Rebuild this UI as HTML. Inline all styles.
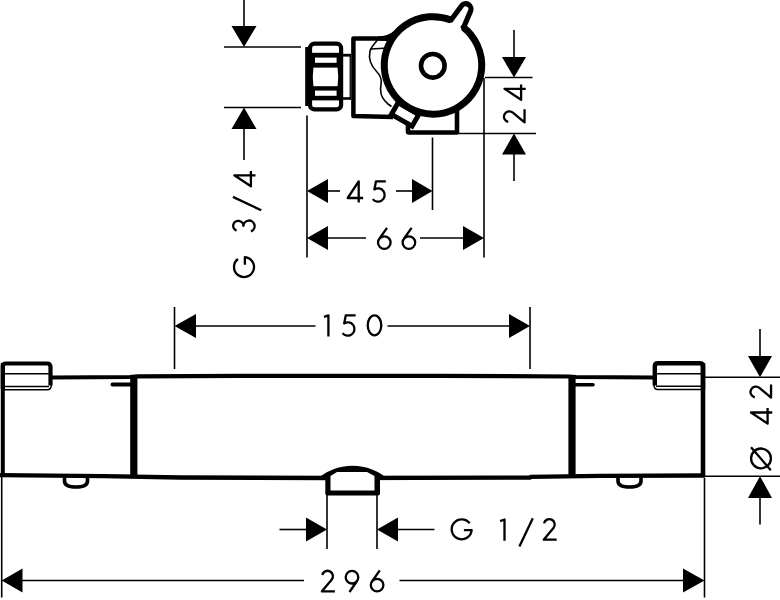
<!DOCTYPE html>
<html><head><meta charset="utf-8">
<style>
html,body{margin:0;padding:0;background:#fff;}
body{width:780px;height:600px;overflow:hidden;}
svg{display:block;}
</style></head>
<body>
<svg width="780" height="600" viewBox="0 0 780 600">
<rect width="780" height="600" fill="#fff"/>
<!-- ================= TOP VIEW ================= -->
<g stroke="#000" stroke-width="1.6" fill="none">
  <line x1="224" y1="47" x2="301" y2="47"/>
  <line x1="224" y1="107.5" x2="301" y2="107.5"/>
  <line x1="244" y1="0" x2="244" y2="28"/>
  <line x1="244" y1="128" x2="244" y2="160"/>
  <line x1="485" y1="77.5" x2="532.5" y2="77.5"/>
  <line x1="459" y1="133.5" x2="536" y2="133.5"/>
  <line x1="514" y1="30" x2="514" y2="58"/>
  <line x1="514" y1="153" x2="514" y2="181"/>
  <line x1="307" y1="115.5" x2="307" y2="257.5"/>
  <line x1="432.5" y1="137.5" x2="432.5" y2="210"/>
  <line x1="484" y1="78" x2="484" y2="257.5"/>
  <line x1="327" y1="191" x2="340" y2="191"/>
  <line x1="396" y1="191" x2="413" y2="191"/>
  <line x1="327" y1="238" x2="366" y2="238"/>
  <line x1="420" y1="238" x2="464" y2="238"/>
</g>
<g fill="#000">
  <polygon points="244,47 231.5,26 256.5,26"/>
  <polygon points="244,107.5 231.5,129 256.5,129"/>
  <polygon points="514,77.5 502,57 526,57"/>
  <polygon points="514,133.5 502,154.5 526,154.5"/>
  <polygon points="307,191 328,179 328,203"/>
  <polygon points="432.5,191 412,179 412,203"/>
  <polygon points="307,238 328,226 328,250"/>
  <polygon points="484,238 463,226 463,250"/>
</g>
<!-- nut -->
<g>
  <rect x="305.2" y="47" width="3" height="59" fill="#000"/>
  <rect x="310" y="43.6" width="31.1" height="65.8" rx="4.5" fill="none" stroke="#000" stroke-width="4.2"/>
  <rect x="308" y="52.8" width="35" height="4.8" fill="#000"/>
  <rect x="308" y="62.8" width="35" height="4.8" fill="#000"/>
  <rect x="308" y="86.2" width="35" height="4.4" fill="#000"/>
  <rect x="308" y="95.8" width="35" height="4.6" fill="#000"/>
  <rect x="312" y="57" width="3" height="7" fill="#000"/>
  <rect x="336.6" y="57" width="3" height="7" fill="#000"/>
  <rect x="312" y="90" width="3" height="7" fill="#000"/>
  <rect x="336.6" y="90" width="3" height="7" fill="#000"/>
  <path d="M312,67 Q 310.5,77 312,87 L 313.5,87 Q 312,77 313.5,67 Z" fill="#000"/>
  <path d="M339,67 Q 340.5,77 339,87 L 337.5,87 Q 339,77 337.5,67 Z" fill="#000"/>
  <rect x="342" y="53.8" width="9" height="2.8" fill="#000"/>
  <rect x="342" y="97.2" width="9" height="2.6" fill="#000"/>
  <rect x="349.6" y="54" width="1.3" height="45.5" fill="#000"/>
</g>
<!-- body -->
<path d="M 395,38.6 L 353.4,38.6 L 353.4,116.1 L 393,117" fill="none" stroke="#000" stroke-width="4.5" stroke-linejoin="round"/>
<path d="M377.5,40 C 374,44 371,47.5 370,51 C 368.5,58 371,66 377,72 C 381,76 382,79 381,84 C 380,90 381,97 385,101 C 387,103.5 389,105 391.5,106.5" fill="none" stroke="#000" stroke-width="1.6"/>
<path d="M378,36.4 Q 388,36.4 393.5,31.3 L 398,42 L 378,40.6 Z" fill="#000"/>
<path d="M370.5,49 L 384,48.2" fill="none" stroke="#000" stroke-width="1.6"/>
<path d="M 408,122 L 408,131.5 Q 408,132.5 409,132.5 L 457,132.5 L 457,110" fill="none" stroke="#000" stroke-width="4.6" stroke-linejoin="round"/>
<g transform="translate(405.1,114.4) rotate(29.7)">
  <rect x="-11.9" y="-6.7" width="23.8" height="13.4" fill="#fff" stroke="#000" stroke-width="5"/>
</g>
<!-- main circle -->
<circle cx="433" cy="65.4" r="48.75" fill="#fff"/>
<path d="M463.26,27.18 A48.75,48.75 0 1 1 451.07,20.12" fill="none" stroke="#000" stroke-width="7"/>
<path d="M451.07,20.12 L451.20,19.80 L461.26,6.17 A5.3,5.3 0 0 1 470.34,11.63 L464.20,26.00 L463.26,27.18" fill="none" stroke="#000" stroke-width="5.2" stroke-linejoin="round" stroke-linecap="round"/>
<circle cx="432.8" cy="65.8" r="11.8" fill="none" stroke="#000" stroke-width="4.6"/>

<!-- ================= BOTTOM VIEW ================= -->
<g stroke="#000" stroke-width="1.6" fill="none">
  <line x1="174.5" y1="307" x2="174.5" y2="369"/>
  <line x1="530" y1="307" x2="530" y2="369"/>
  <line x1="195" y1="326" x2="315.5" y2="326"/>
  <line x1="387.5" y1="326" x2="510" y2="326"/>
  <line x1="705" y1="377.2" x2="780" y2="377.2"/>
  <line x1="705" y1="476.2" x2="780" y2="476.2"/>
  <line x1="760" y1="329" x2="760" y2="357"/>
  <line x1="760" y1="497" x2="760" y2="524.5"/>
  <line x1="327" y1="494" x2="327" y2="549"/>
  <line x1="377" y1="494" x2="377" y2="549"/>
  <line x1="279.5" y1="529.5" x2="307" y2="529.5"/>
  <line x1="397" y1="529.5" x2="434.5" y2="529.5"/>
  <line x1="1.7" y1="476" x2="1.7" y2="597.5"/>
  <line x1="704.5" y1="478" x2="704.5" y2="597.5"/>
  <line x1="21" y1="580.5" x2="304" y2="580.5"/>
  <line x1="399.5" y1="580.5" x2="684" y2="580.5"/>
</g>
<g fill="#000">
  <polygon points="174.5,326 196,314 196,338"/>
  <polygon points="530,326 509,314 509,338"/>
  <polygon points="760,377.2 748,356 772,356"/>
  <polygon points="760,476.2 748,498 772,498"/>
  <polygon points="327,529.5 306,517.5 306,541.5"/>
  <polygon points="377,529.5 398,517.5 398,541.5"/>
  <polygon points="1.7,580.5 22.5,568.5 22.5,592.5"/>
  <polygon points="704.5,580.5 683,568.5 683,592.5"/>
</g>
<g stroke="#000" fill="none">
  <path d="M 52,377.5 L 130,377 L 138,376.3 L 240,375.9 L 440,375.8 L 569,376.5 L 576,377 L 654,377.5" stroke-width="4.2"/>
  <path d="M 0,475.2 L 104,476.2 L 180,477.5 L 330,478 L 530,477.5 L 531,476.8 L 600,475.8 L 705,475.5" stroke-width="4.3"/>
  <line x1="2.8" y1="363" x2="2.8" y2="477" stroke-width="4"/>
  <line x1="703" y1="363" x2="703" y2="477" stroke-width="4.6"/>
  <line x1="133.8" y1="375" x2="133.8" y2="477" stroke-width="7.2"/>
  <line x1="572" y1="375" x2="572" y2="477" stroke-width="7.2"/>
  <path d="M 112.5,384.5 L 131,384.5" stroke-width="4" stroke-linecap="round"/>
  <path d="M 575,384.8 L 593,384.8" stroke-width="3.6" stroke-linecap="round"/>
</g>
<g fill="none" stroke="#000">
  <path d="M 2.8,389 L 2.8,366 Q 2.8,363.5 6,363.5 L 47,363.5 Q 50.5,363.5 50.5,367 L 50.5,385.5" stroke-width="4.2"/>
  <path d="M 51.3,385 Q 51.3,389.8 47,389.8 L 4,389.8" stroke-width="1.5"/>
  <line x1="4" y1="373.8" x2="49" y2="373.8" stroke-width="1.6"/>
  <line x1="4" y1="386.5" x2="49" y2="386.5" stroke-width="1.4"/>
  <path d="M 703,389 L 703,366 Q 703,363.3 699.5,363.3 L 658,363.3 Q 654.8,363.3 654.8,366.5 L 654.8,385.5" stroke-width="4.4"/>
  <path d="M 654,385 Q 654,389.6 658,389.6 L 701,389.6" stroke-width="1.5"/>
  <line x1="656" y1="373.8" x2="701" y2="373.8" stroke-width="1.6"/>
  <line x1="656" y1="386.3" x2="701" y2="386.3" stroke-width="1.4"/>
</g>
<path d="M 64.5,476 L 64.5,481 Q 64.5,487 76,487 Q 87.5,487 87.5,481 L 87.5,476" fill="none" stroke="#000" stroke-width="3.6"/>
<path d="M 618,476 L 618,481 Q 618,487 629.5,487 Q 641,487 641,481 L 641,476" fill="none" stroke="#000" stroke-width="3.6"/>
<path d="M 316,480 A 54 54 0 0 1 389,480 L 380,480 L 380,493.5 Q 380,495.6 378,495.6 L 327.3,495.6 Q 325.3,495.6 325.3,493.5 L 325.3,480 Z" fill="#000"/>
<polygon points="330.5,476 337,472 367,472 374.5,476 374.5,490.5 330.5,490.5" fill="#fff"/>

<g fill="none" stroke="#000" stroke-width="2.3" stroke-linejoin="round">
<path transform="translate(346.5,202.6)" d="M12.2,0 L12.2,-21.2 L1.2,-4.6 L16.6,-4.6"/>
<path transform="translate(371.5,202.6)" d="M14.3,-21.3 L4.5,-21.3 L2.88,-13.18 A6.65,6.65 0 1 1 1.26,-3.51"/>
<path transform="translate(376.7,250)" d="M10.30,-22.10 L2.46,-11.04 M1.30,-7.40 a6.3,6.3 0 1 0 12.6,0 a6.3,6.3 0 1 0 -12.6,0"/>
<path transform="translate(401.3,250)" d="M10.30,-22.10 L2.46,-11.04 M1.30,-7.40 a6.3,6.3 0 1 0 12.6,0 a6.3,6.3 0 1 0 -12.6,0"/>
<path transform="translate(323.1,336.6)" d="M5.3,0 L5.3,-21.3 L0.9,-19.7"/>
<path transform="translate(341.3,336.6)" d="M14.3,-21.3 L4.5,-21.3 L2.88,-13.18 A6.65,6.65 0 1 1 1.26,-3.51"/>
<path transform="translate(366.5,336.6)" d="M1.2,-11.25 a6.8,10.05 0 1 0 13.6,0 a6.8,10.05 0 1 0 -13.6,0"/>
<path transform="translate(320.7,592.5)" d="M1.52,-17.42 A5.4,5.4 0 1 1 10.94,-12.83 L1.2,-1.15 L14.2,-1.15"/>
<path transform="translate(344.5,592.5)" d="M5.00,-0.50 L12.70,-11.74 M1.20,-15.30 a6.3,6.3 0 1 0 12.6,0 a6.3,6.3 0 1 0 -12.6,0"/>
<path transform="translate(369.5,592.5)" d="M10.30,-22.10 L2.46,-11.04 M1.30,-7.40 a6.3,6.3 0 1 0 12.6,0 a6.3,6.3 0 1 0 -12.6,0"/>
<path transform="translate(450.5,540.8)" d="M19.19,-17.52 A10.0,10.0 0 1 0 21.16,-10.63 L13.4,-10.63"/>
<path transform="translate(499.2,540.8)" d="M5.3,0 L5.3,-21.3 L0.9,-19.7"/>
<path transform="translate(518.7,540.8)" d="M14.1,-22.6 L0.7,5.7"/>
<path transform="translate(542.5,540.8)" d="M1.52,-17.42 A5.4,5.4 0 1 1 10.94,-12.83 L1.2,-1.15 L14.2,-1.15"/>
<path transform="translate(255.5,278.2) rotate(-90)" d="M19.19,-17.52 A10.0,10.0 0 1 0 21.16,-10.63 L13.4,-10.63"/>
<path transform="translate(255.5,232.5) rotate(-90)" d="M1.81,-18.94 A5.1,5.1 0 1 1 6.60,-12.10 A5.6,5.6 0 1 1 1.14,-4.58"/>
<path transform="translate(255.5,211) rotate(-90)" d="M14.1,-22.6 L0.7,5.7"/>
<path transform="translate(255.5,187.5) rotate(-90)" d="M12.2,0 L12.2,-21.2 L1.2,-4.6 L16.6,-4.6"/>
<path transform="translate(525.7,123.5) rotate(-90)" d="M1.52,-17.42 A5.4,5.4 0 1 1 10.94,-12.83 L1.2,-1.15 L14.2,-1.15"/>
<path transform="translate(525.7,101) rotate(-90)" d="M12.2,0 L12.2,-21.2 L1.2,-4.6 L16.6,-4.6"/>
<path transform="translate(772.2,398.8) rotate(-90)" d="M1.52,-17.42 A5.4,5.4 0 1 1 10.94,-12.83 L1.2,-1.15 L14.2,-1.15"/>
<path transform="translate(772.2,424.7) rotate(-90)" d="M12.2,0 L12.2,-21.2 L1.2,-4.6 L16.6,-4.6"/>
</g>
<circle cx="761" cy="458.4" r="9.9" fill="none" stroke="#000" stroke-width="2.3"/>
<line x1="751" y1="447.3" x2="770.8" y2="470.2" stroke="#000" stroke-width="2.3"/>
</svg>
</body></html>
